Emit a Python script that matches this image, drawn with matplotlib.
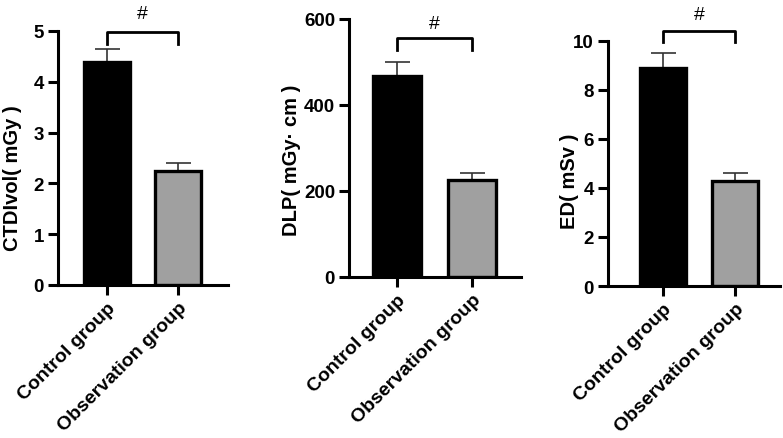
import matplotlib
matplotlib.use("Agg")
import matplotlib.pyplot as plt

plt.rcParams['font.family'] = ['Liberation Sans', 'Noto Sans CJK SC', 'DejaVu Sans']
plt.rcParams['font.weight'] = 'bold'

groups = ["Control group", "Observation group"]
ctdi_vals = [4.38, 2.25]
ctdi_err = [0.27, 0.15]
dlp_vals = [467, 226]
dlp_err = [33, 16]
ed_vals = [8.9, 4.28]
ed_err = [0.62, 0.32]

ylabels = ["CTDIvol( mGy )", "DLP( mGy· cm )", "ED( mSv )"]
ylims = [5, 600, 10]
yticks = [[0, 1, 2, 3, 4, 5], [0, 200, 400, 600], [0, 2, 4, 6, 8, 10]]
bar_colors = ["#000000", "#a0a0a0"]

W, H = 783, 439
# pixel layout: (left, right, bottom, top, bar_spacing, first bar center)
layout = [
    (58, 228, 286, 32, 71, 107),
    (349, 521, 278, 20, 75, 397),
    (608, 780, 287, 42, 72, 663),
]
label_coords = [(-0.21, 0.425), (-0.28, 0.457), (-0.17, 0.433)]
# bracket: (y of bar, y of tick end, y of #)
brackets = [(4.98, 4.74, 5.35), (555, 528, 590), (10.4, 9.96, 11.1)]

fig = plt.figure(figsize=(W / 100, H / 100), dpi=100)
data = [(ctdi_vals, ctdi_err), (dlp_vals, dlp_err), (ed_vals, ed_err)]

for i, ((vals, errs), (l, r, b, t, sp, c0)) in enumerate(zip(data, layout)):
    ax = fig.add_axes([l / W, 1 - b / H, (r - l) / W, (b - t) / H])
    x = [0, 1]
    ax.bar(x, vals, width=0.64, color=bar_colors, edgecolor="black", linewidth=2.4, zorder=2)
    ax.errorbar(x, vals, yerr=[[0, 0], errs], fmt="none", ecolor="#333333",
                elinewidth=1.2, capsize=9, capthick=1.2, zorder=1)
    xl = -(c0 - l) / sp
    xr = 1 + (r - (c0 + sp)) / sp
    ax.set_xlim(xl, xr)
    ax.set_ylim(0, ylims[i])
    ax.set_yticks(yticks[i])
    ax.set_xticks(x)
    ax.set_xticklabels(groups, rotation=45, ha="right", rotation_mode="anchor",
                       fontsize=14, fontweight="bold")
    for lab in ax.get_yticklabels():
        lab.set_fontsize(13.5)
        lab.set_fontweight("bold")
    ax.set_ylabel(ylabels[i], fontsize=14.5, fontweight="bold")
    ax.yaxis.set_label_coords(*label_coords[i])
    for s in ["top", "right"]:
        ax.spines[s].set_visible(False)
    for s in ["left", "bottom"]:
        ax.spines[s].set_linewidth(2.2)
    ax.tick_params(width=2.2, length=7, pad=3)
    by, bt, hy = brackets[i]
    ax.plot([0, 0, 1, 1], [bt, by, by, bt], color="black", lw=2, clip_on=False)
    ax.text(0.5, hy, "#", ha="center", va="center", fontsize=14,
            fontweight="normal", clip_on=False)

fig.savefig("out.png", dpi=100)
